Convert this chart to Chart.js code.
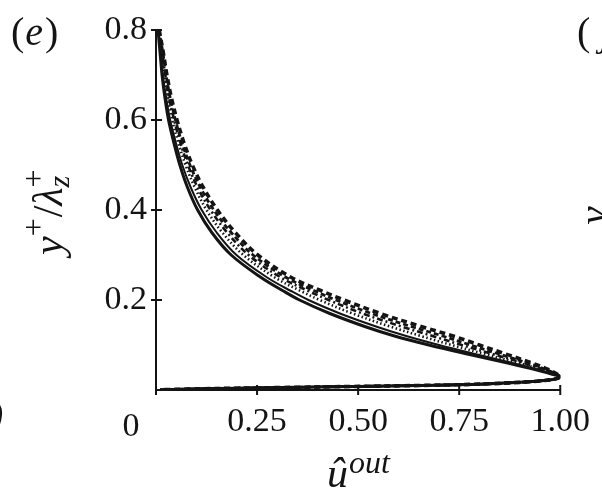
<!DOCTYPE html>
<html>
<head>
<meta charset="utf-8">
<script src="https://cdn.jsdelivr.net/npm/chart.js@4"></script>
<style>
  html, body { margin: 0; padding: 0; background: #fff; }
  #wrap { width: 602px; height: 490px; position: relative; }
</style>
</head>
<body>
<div id="wrap"><canvas id="profileChart" width="602" height="490"></canvas></div>
<script>
/* data: y+/lambda_z+ levels and u_out for each profile */
const yLevels = [0.80, 0.75, 0.70, 0.65, 0.60, 0.55, 0.50, 0.45, 0.40, 0.35, 0.30, 0.25, 0.22, 0.20, 0.17, 0.14, 0.12, 0.10, 0.08, 0.06, 0.045, 0.035, 0.03];

const solidThick = [0.005, 0.010, 0.015, 0.022, 0.031, 0.044, 0.059, 0.078, 0.103, 0.138, 0.186, 0.260, 0.315, 0.355, 0.430, 0.520, 0.590, 0.675, 0.770, 0.870, 0.940, 0.980, 1.0];
const solidThin  = [0.006, 0.012, 0.017, 0.025, 0.035, 0.049, 0.065, 0.086, 0.113, 0.150, 0.199, 0.275, 0.334, 0.377, 0.455, 0.548, 0.619, 0.700, 0.789, 0.882, 0.946, 0.983, 1.0];
const dotted     = [0.006, 0.014, 0.020, 0.029, 0.040, 0.055, 0.073, 0.096, 0.125, 0.164, 0.216, 0.294, 0.358, 0.405, 0.486, 0.583, 0.655, 0.731, 0.813, 0.897, 0.954, 0.986, 1.0];
const dashDot    = [0.007, 0.015, 0.023, 0.032, 0.045, 0.060, 0.079, 0.103, 0.135, 0.176, 0.229, 0.309, 0.377, 0.427, 0.511, 0.611, 0.684, 0.756, 0.832, 0.909, 0.961, 0.988, 1.0];
const dashed     = [0.007, 0.017, 0.025, 0.035, 0.048, 0.064, 0.084, 0.110, 0.143, 0.186, 0.240, 0.322, 0.393, 0.445, 0.533, 0.635, 0.709, 0.778, 0.848, 0.919, 0.966, 0.991, 1.0];
const dashedBold = [0.008, 0.018, 0.027, 0.038, 0.052, 0.069, 0.090, 0.117, 0.152, 0.196, 0.252, 0.335, 0.410, 0.465, 0.555, 0.660, 0.735, 0.800, 0.865, 0.930, 0.972, 0.993, 1.0];

// lower branch running back along the wall
const returnX = [0.99, 0.96, 0.90, 0.80, 0.65, 0.50, 0.35, 0.20, 0.08, 0.01];
const returnY = [0.025, 0.021, 0.017, 0.013, 0.010, 0.008, 0.006, 0.004, 0.002, 0.0005];

const xTicks = [0, 0.25, 0.50, 0.75, 1.00];
const yTicks = [0.2, 0.4, 0.6, 0.8];

function profile(xs) {
    const pts = xs.map((x, i) => ({ x: x, y: yLevels[i] }));
    returnX.forEach((x, i) => pts.push({ x: x, y: returnY[i] }));
    return pts;
}

const INK = '#141414';
const SERIF = '"Liberation Serif", "DejaVu Serif", serif';

function line(data, width, dash) {
    return {
        data: profile(data),
        showLine: true,
        borderColor: INK,
        borderWidth: width,
        borderDash: dash,
        pointRadius: 0,
        fill: false,
        tension: 0.35
    };
}

// tick crosses, corner "0", axis titles and the neighbouring panel's bits
const decorPlugin = {
    id: 'decor',
    afterDraw(chart) {
        const c = chart.ctx;
        const xs = chart.scales.x, ys = chart.scales.y;
        const x0 = xs.getPixelForValue(0), y0 = ys.getPixelForValue(0);
        c.save();
        c.strokeStyle = INK;
        c.lineWidth = 2;
        yTicks.forEach(v => {
            const p = ys.getPixelForValue(v);
            c.beginPath(); c.moveTo(x0 - 5, p); c.lineTo(x0 + 6, p); c.stroke();
        });
        xTicks.forEach(v => {
            const p = xs.getPixelForValue(v);
            c.beginPath(); c.moveTo(p, y0 - 5); c.lineTo(p, y0 + 5); c.stroke();
        });

        c.fillStyle = INK;
        c.textBaseline = 'alphabetic';
        c.textAlign = 'left';

        // corner zero
        c.font = '34px ' + SERIF;
        c.textAlign = 'center';
        c.fillText('0', x0 - 25, 436);
        c.textAlign = 'left';

        // panel label (e)
        c.font = '40px ' + SERIF;
        c.fillText('(', 11, 45);
        let w = c.measureText('(').width;
        c.font = 'italic 40px ' + SERIF;
        c.fillText('e', 11 + w + 1, 45);
        w += c.measureText('e').width + 3;
        c.font = '40px ' + SERIF;
        c.fillText(')', 11 + w, 45);

        // x title: u-hat with superscript out
        c.font = 'italic 42px ' + SERIF;
        c.fillText('\u00fb', 327, 487);
        const uw = c.measureText('\u00fb').width;
        c.font = 'italic 32px ' + SERIF;
        c.fillText('out', 327 + uw + 1, 473);

        // y title, rotated
        c.save();
        c.translate(62, 203);
        c.rotate(-Math.PI / 2);
        const big = 'italic 42px ' + SERIF, small = '32px ' + SERIF;
        let x = -52;
        c.font = big; c.fillText('y', x, 0); x += c.measureText('y').width;
        c.font = small; c.fillText('+', x, -18); x += c.measureText('+').width + 1;
        c.font = '42px ' + SERIF; c.fillText('/', x, 0); x += c.measureText('/').width;
        c.font = big; c.fillText('\u03bb', x, 0); x += c.measureText('\u03bb').width;
        c.font = 'italic 30px ' + SERIF; c.fillText('z', x, 7);
        c.font = small; c.fillText('+', x, -18);
        c.restore();

        // pieces of the neighbouring panels
        c.font = '40px ' + SERIF;
        c.fillText('(', 577, 45);
        c.font = 'italic 40px ' + SERIF;
        c.fillText('j', 600, 45);
        c.fillText(')', -10, 428);
        c.save();
        c.translate(607, 215);
        c.rotate(-Math.PI / 2);
        c.font = 'italic 42px ' + SERIF;
        c.fillText('y', -10, 0);
        c.restore();

        c.restore();
    }
};

document.addEventListener("DOMContentLoaded", function () {
    const ctx = document.getElementById('profileChart').getContext('2d');

    new Chart(ctx, {
        type: 'scatter',
        data: {
            datasets: [
                line(solidThick, 3, []),
                line(solidThin, 2, []),
                line(dotted, 2.6, [1.5, 2.5]),
                line(dashDot, 2.6, [6, 3, 2, 3]),
                line(dashed, 2.8, [5, 3]),
                line(dashedBold, 3.6, [6, 4])
            ]
        },
        options: {
            responsive: false,
            animation: false,
            events: [],
            layout: { padding: { top: 30, right: 38, left: 0, bottom: 0 } },
            scales: {
                x: {
                    type: 'linear',
                    min: 0,
                    max: 1,
                    afterBuildTicks: s => { s.ticks = xTicks.map(v => ({ value: v })); },
                    afterFit: s => { s.height = 100; },
                    grid: { display: false, drawTicks: false },
                    border: { display: true, color: INK, width: 2 },
                    ticks: {
                        padding: 12,
                        color: INK,
                        font: { family: SERIF, size: 34 },
                        callback: v => (v === 0 ? '' : v.toFixed(2))
                    }
                },
                y: {
                    type: 'linear',
                    min: 0,
                    max: 0.8,
                    afterBuildTicks: s => { s.ticks = yTicks.map(v => ({ value: v })); },
                    afterFit: s => { s.width = 156; },
                    grid: { display: false, drawTicks: false },
                    border: { display: true, color: INK, width: 2 },
                    ticks: {
                        padding: 9,
                        color: INK,
                        font: { family: SERIF, size: 34 },
                        callback: v => v.toFixed(1)
                    }
                }
            },
            plugins: {
                legend: { display: false },
                tooltip: { enabled: false }
            }
        },
        plugins: [decorPlugin]
    });
});
</script>
</body>
</html>
